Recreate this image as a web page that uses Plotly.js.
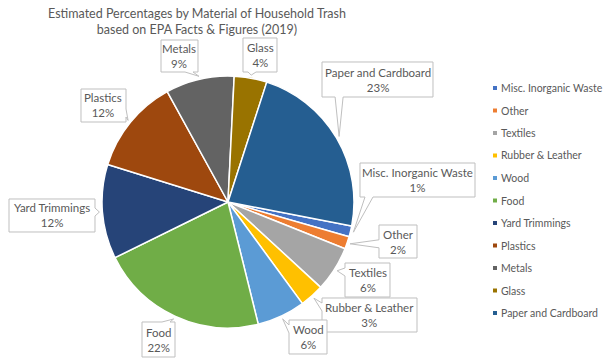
<!DOCTYPE html>
<html><head><meta charset="utf-8">
<script src="https://cdn.plot.ly/plotly-3.0.1.min.js"></script>
<style>html,body{margin:0;padding:0;background:#fff}#chart{width:609px;height:362px}</style>
</head><body><div id="chart"></div>
<script>
// ---- data ----
const labels = ['Misc. Inorganic Waste','Other','Textiles','Rubber & Leather','Wood','Food','Yard Trimmings','Plastics','Metals','Glass','Paper and Cardboard'];
const values = [1.4, 1.6, 5.8, 3.1, 6.2, 21.6, 12.1, 12.2, 8.8, 4.2, 23.1];
const colors = ['#4472C4','#ED7D31','#A5A5A5','#FFC000','#5B9BD5','#70AD47','#264478','#9E480E','#636363','#997300','#255E91'];
const titleText = 'Estimated Percentages by Material of Household Trash<br>based on EPA Facts & Figures (2019)';

// ---- layout constants (pixels) ----
const W = 609, H = 362, CX = 228, CY = 202, R = 126, START = 101;
const FONT = 'Lato, "Open Sans", sans-serif';
const TXT = '#595959';
// callout boxes [x0,y0,x1,y1] in label order
const boxes = [
  [360,163,475,197], [379,225,417,258], [345,263,390,297], [322,298,417,332],
  [289,320,327,354], [142,322,175,357], [9,199,95,232], [81,89,126,122],
  [161,40,198,72], [243,38,277,72], [322,62,433,97]
];
const legendX = 493, legendY0 = 88, legendStep = 22.5;

function px(x){ return x / W; }
function py(y){ return 1 - y / H; }

const total = values.reduce((a,b)=>a+b, 0);
let cum = 0;
const tips = values.map(v => {
  const a = (START + (cum + v/2) / total * 360) * Math.PI / 180;
  cum += v;
  const r = R + 3;
  return [CX + r * Math.sin(a), CY - r * Math.cos(a)];
});

function calloutPath(b, tip){
  const [x0,y0,x1,y1] = b; const [tx,ty] = tip;
  const d = {left: x0-tx, right: tx-x1, top: y0-ty, bottom: ty-y1};
  let side = 'bottom', best = -Infinity;
  for (const k in d) if (d[k] > best){ best = d[k]; side = k; }
  const hw = 4, m = 5;
  const clamp = (v,a,b) => Math.max(a, Math.min(b, v));
  const pts = [[x0,y0]];
  if (side === 'top'){ const c = clamp(tx, x0+m+hw, x1-m-hw); pts.push([c-hw,y0],[tx,ty],[c+hw,y0]); }
  pts.push([x1,y0]);
  if (side === 'right'){ const c = clamp(ty, y0+m+hw, y1-m-hw); pts.push([x1,c-hw],[tx,ty],[x1,c+hw]); }
  pts.push([x1,y1]);
  if (side === 'bottom'){ const c = clamp(tx, x0+m+hw, x1-m-hw); pts.push([c+hw,y1],[tx,ty],[c-hw,y1]); }
  pts.push([x0,y1]);
  if (side === 'left'){ const c = clamp(ty, y0+m+hw, y1-m-hw); pts.push([x0,c+hw],[tx,ty],[x0,c-hw]); }
  return 'M' + pts.map(p => px(p[0]).toFixed(5) + ',' + py(p[1]).toFixed(5)).join('L') + 'Z';
}

const shapes = [];
const annotations = [];
labels.forEach((lab, i) => {
  const b = boxes[i];
  shapes.push({type:'path', xref:'paper', yref:'paper', path: calloutPath(b, tips[i]),
    fillcolor:'#ffffff', line:{color:'#BFBFBF', width:1}, layer:'above'});
  const pct = Math.round(values[i] / total * 100);
  annotations.push({xref:'paper', yref:'paper', x: px((b[0]+b[2])/2), y: py((b[1]+b[3])/2),
    xanchor:'center', yanchor:'middle', showarrow:false, align:'center',
    text: lab + '<br>' + pct + '%', font:{family:FONT, size:11.5, color:TXT}});
  // legend
  const ly = legendY0 + i * legendStep;
  shapes.push({type:'rect', xref:'paper', yref:'paper', x0: px(legendX), x1: px(legendX+4),
    y0: py(ly-2), y1: py(ly+2), fillcolor: colors[i], line:{width:0}});
  annotations.push({xref:'paper', yref:'paper', x: px(legendX+6), y: py(ly), xanchor:'left', yanchor:'middle',
    showarrow:false, text: lab, font:{family:FONT, size:10.5, color:TXT}});
});

const trace = {
  type:'pie', labels: labels, values: values, sort:false, direction:'clockwise', rotation: START,
  marker:{colors: colors, line:{color:'#ffffff', width:1.5}},
  textinfo:'none', hoverinfo:'label+percent', showlegend:false,
  domain:{x:[px(CX-R), px(CX+R)], y:[py(CY+R), py(CY-R)]}
};

const layout = {
  width: W, height: H, margin:{l:0,r:0,t:0,b:0}, paper_bgcolor:'#ffffff',
  showlegend:false,
  title:{text: titleText, x: 197/W, xanchor:'center', y: py(18), yanchor:'middle', yref:'container',
    font:{family:FONT, size:12.5, color:TXT}},
  shapes: shapes, annotations: annotations
};
Plotly.newPlot('chart', [trace], layout, {staticPlot:true});
</script></body></html>
